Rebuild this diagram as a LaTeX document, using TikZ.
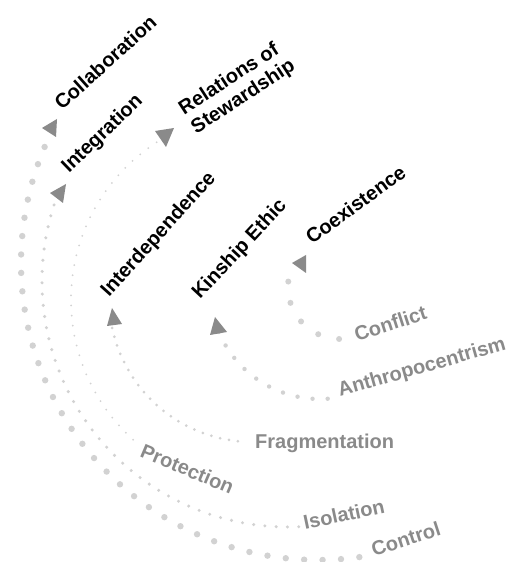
\documentclass[tikz,border=0pt]{standalone}
\usepackage{fontspec}
\setmainfont{Liberation Sans}
\definecolor{dotgrey}{RGB}{210,210,210}
\definecolor{labelgrey}{RGB}{138,138,138}
\definecolor{tipgrey}{RGB}{138,138,138}
% dotted arc: centre, radius, start angle, end angle, number of dots, dot radius
\newcommand\dottedarc[6]{%
  \pgfmathtruncatemacro\lastdot{#5-1}%
  \foreach \k in {0,...,\lastdot}{%
    \fill[dotgrey] (#1) ++({#3+\k*(#4-#3)/\lastdot}:#2pt) circle[radius=#6pt];
  }%
}
\begin{document}
\begin{tikzpicture}[x=1pt,y=1pt,
  goallabel/.style={font=\fontsize{20}{22.5}\selectfont\bfseries, text=black, inner sep=0pt, anchor=base west},
  rootlabel/.style={font=\fontsize{20}{22.5}\selectfont\bfseries, text=labelgrey, inner sep=0pt, anchor=base west},
  tipfill/.style={fill=tipgrey}]
\useasboundingbox (0,0) rectangle (508,562);
\fill[white] (0,0) rectangle (508,562);

% centres of the six arcs
\coordinate (c1) at (318,299);
\coordinate (c2) at (288,281);
\coordinate (c3) at (259,262);
\coordinate (c4) at (253,264);
\coordinate (c5) at (320,273);
\coordinate (c6) at (340,275);

% dotted arcs, outermost first
\dottedarc{c1}{297}{157}{278}{35}{3.2}
\dottedarc{c2}{246}{162}{272.5}{43}{1.7}
\dottedarc{c3}{188}{123}{228}{35}{1.0}
\dottedarc{c4}{144}{192}{264}{21}{1.5}
\dottedarc{c5}{110}{203}{274}{10}{2.2}
\dottedarc{c6}{52}{174}{269}{5}{3}

% arrow tips at the upper ends
\coordinate (t1a) at (42,434); \coordinate (t1b) at (57,443); \coordinate (t1c) at (56,425);
\coordinate (t2a) at (50,369); \coordinate (t2b) at (66,378); \coordinate (t2c) at (63,359);
\coordinate (t3a) at (155,431); \coordinate (t3b) at (174,434); \coordinate (t3c) at (166,415);
\coordinate (t4a) at (112,254); \coordinate (t4b) at (107,236); \coordinate (t4c) at (122,238);
\coordinate (t5a) at (215,245); \coordinate (t5b) at (210,227); \coordinate (t5c) at (227,230);
\coordinate (t6a) at (292,299); \coordinate (t6b) at (306,307); \coordinate (t6c) at (306,289);
\foreach \t in {t1,t2,t3,t4,t5,t6}
  \fill[tipfill] (\t a) -- (\t b) -- (\t c) -- cycle;

% labels at the upper ends
\node[goallabel, rotate=42] (collab) at (62,451) {Collaboration};
\node[goallabel, rotate=44] (integ) at (69,388) {Integration};
\node[goallabel, rotate=33, anchor=north west, align=left] (steward) at (176,459) {Relations of\\Stewardship};
\node[goallabel, rotate=48] (interdep) at (109,264) {Interdependence};
\node[goallabel, rotate=47] (kinship) at (200,262) {Kinship Ethic};
\node[goallabel, rotate=36] (coexist) at (312,317) {Coexistence};

% labels at the lower ends
\node[rootlabel, rotate=18] (conflict) at (357,220) {Conflict};
\node[rootlabel, rotate=16] (anthro) at (340,165) {Anthropocentrism};
\node[rootlabel] (frag) at (255,113) {Fragmentation};
\node[rootlabel, rotate=-23] (protect) at (139,106) {Protection};
\node[rootlabel, rotate=12] (isol) at (305,32) {Isolation};
\node[rootlabel, rotate=18] (control) at (374,5) {Control};
\end{tikzpicture}
\end{document}
